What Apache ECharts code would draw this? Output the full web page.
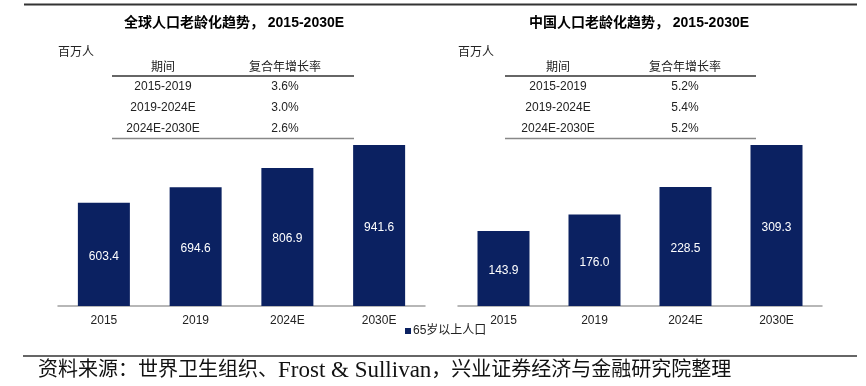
<!DOCTYPE html>
<html>
<head>
<meta charset="utf-8">
<script src="https://cdn.jsdelivr.net/npm/echarts@6/dist/echarts.min.js"></script>
<style>
html,body{margin:0;padding:0;background:#fff;}
#chart{width:866px;height:386px;}
</style>
</head>
<body>
<div id="chart"></div>
<script>
const categories = ['2015', '2019', '2024E', '2030E'];
const globalValues = [603.4, 694.6, 806.9, 941.6];
const chinaValues = [143.9, 176.0, 228.5, 309.3];
const periods = ['2015-2019', '2019-2024E', '2024E-2030E'];
const globalCagr = ['3.6%', '3.0%', '2.6%'];
const chinaCagr = ['5.2%', '5.4%', '5.2%'];
const seriesName = '65岁以上人口';
const titleGlobal = '全球人口老龄化趋势， 2015-2030E';
const titleChina = '中国人口老龄化趋势， 2015-2030E';
const unitText = '百万人';
const tableHeader = ['期间', '复合年增长率'];
const sourceParts = ['资料来源：世界卫生组织、', 'Frost & Sullivan', '，兴业证券经济与金融研究院整理'];

const FONT = 'Liberation Sans, Arial, "Noto Sans CJK SC", sans-serif';
const SERIF = '"Liberation Serif", "DejaVu Serif", "Noto Sans CJK SC", serif';
const BAR = '#0b2161';
const chart = echarts.init(document.getElementById('chart'), null, {renderer: 'canvas'});

function txt(x, y, s, opt) {
  return {
    type: 'text', x: x, y: y,
    style: Object.assign({text: s, font: '12px ' + FONT, fill: '#222', align: 'center', verticalAlign: 'middle'}, opt || {})
  };
}
function line(x1, y1, x2, y2, color, w) {
  return {type: 'line', shape: {x1: x1, y1: y1, x2: x2, y2: y2}, style: {stroke: color, lineWidth: w}};
}
function table(colA, colB, x1, x2, cagr) {
  const g = [];
  g.push(txt(colA, 68, tableHeader[0]));
  g.push(txt(colB, 68, tableHeader[1]));
  g.push(line(x1, 76, x2, 76, '#333', 1.5));
  const ys = [87, 108, 129];
  periods.forEach((p, i) => {
    g.push(txt(colA, ys[i], p));
    g.push(txt(colB, ys[i], cagr[i]));
  });
  g.push(line(x1, 138.5, x2, 138.5, '#888', 1.5));
  return g;
}

const graphics = [
  line(24, 4.5, 857, 4.5, '#333', 2),
  txt(234, 23, titleGlobal, {font: 'bold 14px ' + FONT, fill: '#000'}),
  txt(639, 23, titleChina, {font: 'bold 14px ' + FONT, fill: '#000'}),
  txt(58, 53, unitText, {align: 'left', fill: '#222'}),
  txt(458, 53, unitText, {align: 'left', fill: '#222'}),
  ...table(163, 285, 112, 354, globalCagr),
  ...table(558, 685, 505, 756, chinaCagr),
  line(23, 356, 857, 356, '#333', 1.5),
  {
    type: 'text', x: 38, y: 371,
    style: {
      text: '{c|' + sourceParts[0] + '}{l|' + sourceParts[1] + '}{c|' + sourceParts[2] + '}',
      align: 'left', verticalAlign: 'middle',
      rich: {
        c: {fontSize: 20, fontFamily: SERIF, fill: '#111', color: '#111'},
        l: {fontSize: 23, fontFamily: SERIF, fill: '#111', color: '#111'}
      }
    }
  }
];

function xAx(idx) {
  return {
    type: 'category', gridIndex: idx, data: categories,
    axisLine: {lineStyle: {color: '#a0a0a0', width: 1.5}},
    axisTick: {show: false},
    axisLabel: {color: '#222', fontSize: 12, fontFamily: FONT, margin: 9}
  };
}
function yAx(idx, max) {
  return {type: 'value', gridIndex: idx, min: 0, max: max, show: false, splitLine: {show: false}};
}
function bars(idx, data) {
  return {
    name: seriesName, type: 'bar', xAxisIndex: idx, yAxisIndex: idx, data: data,
    barWidth: 52, itemStyle: {color: BAR},
    label: {show: true, position: 'inside', color: '#fff', fontSize: 12, fontFamily: FONT,
      offset: [0, 2], formatter: p => p.value.toFixed(1)},
    animation: false
  };
}

chart.setOption({
  animation: false,
  backgroundColor: '#fff',
  grid: [
    {left: 58, width: 367, top: 135, height: 171},
    {left: 458, width: 364, top: 135, height: 171}
  ],
  xAxis: [xAx(0), xAx(1)],
  yAxis: [yAx(0, 1000), yAx(1, 328.5)],
  legend: {
    data: [seriesName], left: 400, top: 320, icon: 'rect', itemWidth: 6, itemHeight: 6, itemGap: 2,
    textStyle: {fontSize: 12, color: '#222', fontFamily: FONT, padding: [0, 0, 0, -3]},
    selectedMode: false
  },
  series: [bars(0, globalValues), bars(1, chinaValues)],
  graphic: graphics
});
</script>
</body>
</html>
